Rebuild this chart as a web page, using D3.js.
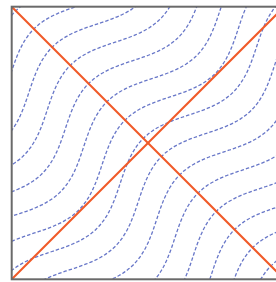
<!DOCTYPE html>
<html>
  <head>
    <script src="https://d3js.org/d3.v7.min.js" charset="utf-8"></script>
    <style type="text/css">
    body { margin: 0; background: #fff; }
    </style>
  </head>
  <body>
  <script type="text/javascript">
  // wave curves: (y - x) = level + amp * cos(2*pi*(x + y)), levels
  var levels = [0.89, 0.757, 0.623, 0.49, 0.356, 0.222, 0.088, -0.046, -0.179, -0.313, -0.447, -0.581, -0.715, -0.848, -0.982];
  var amp = 0.08;
  // the two straight diagonals, in data units
  var diagonals = [
    [[0, 0], [1, 1]],
    [[0, 1], [1, 0]]
  ];

  var W = 276, H = 282;
  var svg = d3.select("body").append("svg").attr("width", W).attr("height", H);

  var x = d3.scaleLinear().domain([0, 1]).range([11.7, 284.3]);
  var y = d3.scaleLinear().domain([0, 1]).range([279.3, 6.7]);

  svg.append("clipPath").attr("id", "plot")
    .append("rect")
    .attr("x", x(0)).attr("y", y(1))
    .attr("width", x(1) - x(0)).attr("height", y(0) - y(1));

  var g = svg.append("g").attr("clip-path", "url(#plot)");

  // sample each level curve along u = x + y
  var us = d3.range(0, 2.0001, 0.01);
  var line = d3.line()
    .x(function(p) { return x(p[0]); })
    .y(function(p) { return y(p[1]); });

  g.selectAll("path.level")
    .data(levels)
    .enter()
    .append("path")
    .attr("class", "level")
    .attr("d", function(k) {
      var pts = us.map(function(u) {
        var v = k + amp * Math.cos(2 * Math.PI * u);
        return [(u - v) / 2, (u + v) / 2];
      });
      return line.curve(d3.curveBasis)(pts);
    })
    .attr("fill", "none")
    .attr("stroke", "#6877c8")
    .attr("stroke-width", 1.3)
    .attr("stroke-dasharray", "3.5,2");

  g.selectAll("path.diag")
    .data(diagonals)
    .enter()
    .append("path")
    .attr("class", "diag")
    .attr("d", line.curve(d3.curveLinear))
    .attr("fill", "none")
    .attr("stroke", "#f05a28")
    .attr("stroke-width", 2);

  svg.append("rect")
    .attr("x", x(0)).attr("y", y(1))
    .attr("width", x(1) - x(0)).attr("height", y(0) - y(1))
    .attr("fill", "none")
    .attr("stroke", "#6a6a6a")
    .attr("stroke-width", 2);
  </script>
  </body>
</html>
